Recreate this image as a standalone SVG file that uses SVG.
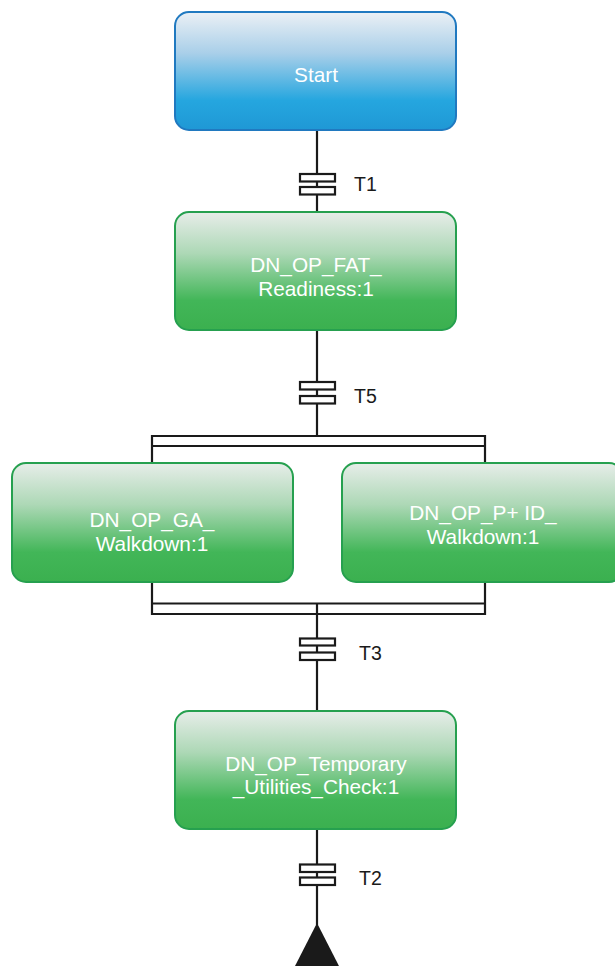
<svg xmlns="http://www.w3.org/2000/svg" width="615" height="966" viewBox="0 0 615 966">
<defs>
<linearGradient id="gBlue" x1="0" y1="0" x2="0" y2="1">
<stop offset="0" stop-color="#ebf0f5"/>
<stop offset="0.35" stop-color="#a9cfe9"/>
<stop offset="0.75" stop-color="#25a6df"/>
<stop offset="1" stop-color="#1f98d5"/>
</linearGradient>
<linearGradient id="gGreen" x1="0" y1="0" x2="0" y2="1">
<stop offset="0" stop-color="#e7ede9"/>
<stop offset="0.35" stop-color="#add8b6"/>
<stop offset="0.75" stop-color="#42b658"/>
<stop offset="1" stop-color="#3bb04f"/>
</linearGradient>
<style>
.box{stroke-width:2}
.blue{fill:url(#gBlue);stroke:#2079c0}
.green{fill:url(#gGreen);stroke:#26a04f}
.lbl{font-family:"Liberation Sans",Arial,sans-serif;font-size:20.8px;fill:#ffffff;text-anchor:middle}
.tl{font-family:"Liberation Sans",Arial,sans-serif;font-size:19.5px;fill:#1a1a1a}
.ln{stroke:#1a1a1a;stroke-width:2.2;fill:none}
.tr{stroke:#1a1a1a;stroke-width:2.2;fill:#ffffff}
</style>
</defs>
<g id="connectors">
<line class="ln" x1="317" y1="130" x2="317" y2="212"/>
<line class="ln" x1="317" y1="331" x2="317" y2="436"/>
<line class="ln" x1="152" y1="436" x2="485" y2="436"/>
<line class="ln" x1="152" y1="446" x2="485" y2="446"/>
<line class="ln" x1="152" y1="435" x2="152" y2="463"/>
<line class="ln" x1="485" y1="435" x2="485" y2="463"/>
<line class="ln" x1="152" y1="582" x2="152" y2="615"/>
<line class="ln" x1="485" y1="582" x2="485" y2="615"/>
<line class="ln" x1="151" y1="603.5" x2="486" y2="603.5"/>
<line class="ln" x1="151" y1="614" x2="486" y2="614"/>
<line class="ln" x1="317" y1="603" x2="317" y2="711"/>
<line class="ln" x1="317" y1="829" x2="317" y2="925"/>
<rect class="tr" x="300" y="174" width="35" height="7.5"/>
<rect class="tr" x="300" y="187" width="35" height="7.5"/>
<text class="tl" x="354" y="191">T1</text>
<rect class="tr" x="300" y="382" width="35" height="7.5"/>
<rect class="tr" x="300" y="396" width="35" height="7.5"/>
<text class="tl" x="354" y="403">T5</text>
<rect class="tr" x="300" y="638.5" width="35" height="7"/>
<rect class="tr" x="300" y="652.5" width="35" height="7.5"/>
<text class="tl" x="359" y="660">T3</text>
<rect class="tr" x="300" y="864.5" width="35" height="7.5"/>
<rect class="tr" x="300" y="877.5" width="35" height="7.5"/>
<text class="tl" x="359" y="885">T2</text>
<polygon points="317,923 294,968 340,968" fill="#1a1a1a"/>
</g>
<g id="start">
<rect class="box blue" x="175" y="12" width="281" height="118" rx="14"/>
<text class="lbl" x="316" y="82" font-size="21.5">Start</text>
</g>
<g id="fat_readiness">
<rect class="box green" x="175" y="212" width="281" height="118" rx="14"/>
<text class="lbl" x="316" y="272">DN_OP_FAT_</text>
<text class="lbl" x="316" y="296">Readiness:1</text>
</g>
<g id="ga_walkdown">
<rect class="box green" x="12" y="463" width="281" height="119" rx="14"/>
<text class="lbl" x="152" y="527">DN_OP_GA_</text>
<text class="lbl" x="152" y="551">Walkdown:1</text>
</g>
<g id="pid_walkdown">
<rect class="box green" x="342" y="463" width="281" height="119" rx="14"/>
<text class="lbl" x="483" y="520">DN_OP_P+ ID_</text>
<text class="lbl" x="483" y="544">Walkdown:1</text>
</g>
<g id="temp_utilities">
<rect class="box green" x="175" y="711" width="281" height="118" rx="14"/>
<text class="lbl" x="316" y="771">DN_OP_Temporary</text>
<text class="lbl" x="316" y="794">_Utilities_Check:1</text>
</g>
</svg>
